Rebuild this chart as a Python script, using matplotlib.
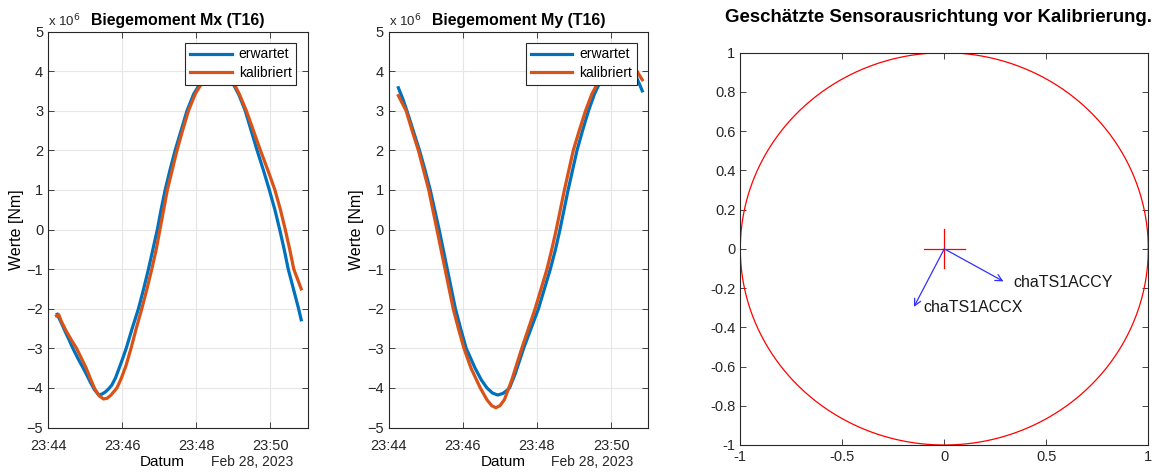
import numpy as np
import matplotlib
matplotlib.use('Agg')
from matplotlib import pyplot as plt
import matplotlib.dates as mdates
from datetime import datetime, timedelta

plt.rcParams['font.family'] = ['Liberation Sans', 'DejaVu Sans']

# minutes after 23:44, values in 1e6 Nm
mx_erw_t = [0.25, 0.36, 0.46, 0.57, 0.67, 0.81, 0.95, 1.05, 1.14, 1.25, 1.36, 1.45, 1.55,
            1.64, 1.72, 1.82, 1.92, 2.01, 2.11, 2.27, 2.44, 2.58, 2.71, 2.83, 2.95, 3.05,
            3.16, 3.29, 3.43, 3.59, 3.75, 3.93, 4.15, 4.35, 4.56, 4.76, 4.96, 5.15, 5.32,
            5.48, 5.64, 5.81, 5.97, 6.12, 6.25, 6.37, 6.48, 6.62, 6.76, 6.83]
mx_erw_v = [-2.14, -2.36, -2.57, -2.79, -3.0, -3.26, -3.5, -3.68, -3.85, -4.04, -4.17, -4.16,
            -4.1, -4.02, -3.93, -3.75, -3.5, -3.27, -3.0, -2.5, -2.0, -1.5, -1.0, -0.5, 0.0,
            0.5, 1.0, 1.5, 2.0, 2.5, 3.0, 3.42, 3.76, 3.97, 4.05, 3.97, 3.74, 3.4, 3.0,
            2.5, 2.0, 1.5, 1.0, 0.5, 0.0, -0.5, -1.0, -1.5, -2.0, -2.28]
mx_kal_t = [0.23, 0.29, 0.36, 0.50, 0.65, 0.77, 0.90, 1.03, 1.15, 1.26, 1.38, 1.50, 1.60,
            1.70, 1.86, 1.98, 2.10, 2.24, 2.38, 2.53, 2.67, 2.80, 2.92, 3.02, 3.12, 3.22,
            3.35, 3.48, 3.63, 3.79, 3.97, 4.19, 4.39, 4.59, 4.79, 4.99, 5.17, 5.35, 5.54,
            5.73, 5.93, 6.12, 6.27, 6.40, 6.52, 6.63, 6.73, 6.83]
mx_kal_v = [-2.18, -2.15, -2.32, -2.58, -2.82, -3.0, -3.25, -3.5, -3.78, -4.02, -4.2, -4.28,
            -4.26, -4.18, -4.0, -3.75, -3.45, -3.0, -2.5, -2.0, -1.5, -1.0, -0.5, 0.0, 0.5,
            1.0, 1.5, 2.0, 2.5, 3.0, 3.42, 3.76, 3.97, 4.05, 3.97, 3.74, 3.4, 3.0, 2.5,
            2.0, 1.5, 1.0, 0.5, 0.0, -0.5, -1.0, -1.25, -1.5]

my_erw_t = [0.26, 0.38, 0.49, 0.66, 0.83, 0.98, 1.12, 1.24, 1.36, 1.47, 1.58, 1.69, 1.80,
            1.94, 2.09, 2.33, 2.50, 2.65, 2.80, 2.94, 3.08, 3.18, 3.26, 3.41, 3.64, 3.84,
            4.04, 4.20, 4.36, 4.50, 4.62, 4.73, 4.84, 4.96, 5.08, 5.23, 5.39, 5.55, 5.71,
            5.88, 6.04, 6.20, 6.31, 6.42, 6.52, 6.60, 6.68, 6.76, 6.84]
my_erw_v = [3.58, 3.3, 3.0, 2.5, 2.0, 1.5, 1.0, 0.5, 0.0, -0.5, -1.0, -1.5, -2.0,
            -2.5, -3.0, -3.5, -3.8, -4.0, -4.13, -4.18, -4.14, -4.07, -4.0, -3.65, -3.0, -2.5,
            -2.0, -1.5, -1.0, -0.5, 0.0, 0.5, 1.0, 1.5, 2.0, 2.5, 3.0, 3.42, 3.74,
            3.98, 4.1, 4.18, 4.2, 4.17, 4.1, 4.0, 3.85, 3.68, 3.5]
my_kal_t = [0.26, 0.36, 0.47, 0.63, 0.80, 0.94, 1.08, 1.19, 1.30, 1.41, 1.52, 1.63, 1.74,
            1.88, 2.03, 2.22, 2.47, 2.65, 2.78, 2.89, 3.00, 3.12, 3.22, 3.32, 3.59, 3.77,
            3.95, 4.11, 4.27, 4.40, 4.52, 4.63, 4.74, 4.86, 4.98, 5.14, 5.31, 5.48, 5.66,
            5.82, 5.98, 6.12, 6.25, 6.40, 6.52, 6.60, 6.68, 6.76, 6.84]
my_kal_v = [3.38, 3.2, 3.0, 2.5, 2.0, 1.5, 1.0, 0.5, 0.0, -0.5, -1.0, -1.5, -2.0,
            -2.5, -3.0, -3.5, -4.0, -4.3, -4.45, -4.5, -4.45, -4.3, -4.05, -3.8, -3.0, -2.5,
            -2.0, -1.5, -1.0, -0.5, 0.0, 0.5, 1.0, 1.5, 2.0, 2.5, 3.0, 3.42, 3.74,
            3.98, 4.12, 4.22, 4.25, 4.24, 4.2, 4.12, 4.03, 3.9, 3.78]

# estimated sensor directions
sensor_names = ['chaTS1ACCX', 'chaTS1ACCY']
sensor_x = [-0.149, 0.29]
sensor_y = [-0.296, -0.166]
label_x = [-0.103, 0.339]
label_y = [-0.30, -0.171]

t0 = datetime(2023, 2, 28, 23, 44)
blue = '#0072BD'
orange = '#D95319'
axcol = '#262626'


def to_time(mins):
    return [t0 + timedelta(minutes=m) for m in mins]


def style_axes(ax):
    for s in ax.spines.values():
        s.set_color(axcol)
        s.set_linewidth(0.8)
    ax.tick_params(direction='in', length=4, width=0.6, colors=axcol, labelsize=10.5,
                   top=True, right=True, labelcolor='#262626')


fig = plt.figure(figsize=(11.58, 4.72), dpi=100)
W, H = 1158.0, 472.0

panels = [
    (48, 'Biegemoment Mx (T16)', mx_erw_t, mx_erw_v, mx_kal_t, mx_kal_v),
    (388.7, 'Biegemoment My (T16)', my_erw_t, my_erw_v, my_kal_t, my_kal_v),
]
for left, title, et, ev, kt, kv in panels:
    ax = fig.add_axes([left / W, (H - 427.5) / H, 259.5 / W, 396 / H])
    ax.plot(to_time(et), ev, color=blue, lw=2.3, label='erwartet')
    ax.plot(to_time(kt), kv, color=orange, lw=2.3, label='kalibriert')
    ax.set_xlim(t0, t0 + timedelta(minutes=7))
    ax.set_ylim(-5, 5)
    ax.set_yticks(range(-5, 6))
    ax.set_xticks(to_time([0, 2, 4, 6]))
    ax.xaxis.set_major_formatter(mdates.DateFormatter('%H:%M'))
    ax.grid(True, color='#e6e6e6', lw=0.8)
    style_axes(ax)
    ax.tick_params(axis='x', pad=8)
    ax.set_ylabel('Werte [Nm]', fontsize=11.5, labelpad=2)
    ax.set_title(title, fontsize=11.4, fontweight='bold', pad=5)
    ax.text(0.0, 1.013, 'x 10$^6$', transform=ax.transAxes, fontsize=9.5,
            ha='left', va='baseline', color=axcol)
    ax.text(0.44, -0.088, 'Datum', transform=ax.transAxes, fontsize=11,
            ha='center', va='center', color='black')
    ax.text(0.944, -0.086, 'Feb 28, 2023', transform=ax.transAxes, fontsize=10,
            ha='right', va='center', color=axcol)
    leg = ax.legend(loc='upper right', fontsize=10, fancybox=False, framealpha=1,
                    edgecolor=axcol, borderaxespad=0.8, handlelength=3.0,
                    borderpad=0.35, labelspacing=0.3, handletextpad=0.5)
    leg.get_frame().set_linewidth(0.8)

# orientation plot
ax3 = fig.add_axes([740.3 / W, (H - 445) / H, 408 / W, 392.3 / H])
theta = np.linspace(0, 2 * np.pi, 400)
ax3.plot(np.cos(theta), np.sin(theta), color='red', lw=0.9)
ax3.plot([-0.1, 0.1], [0, 0], color='red', lw=0.9)
ax3.plot([0, 0], [-0.1, 0.1], color='red', lw=0.9)
for name, sx, sy, lx, ly in zip(sensor_names, sensor_x, sensor_y, label_x, label_y):
    ax3.annotate('', xy=(sx, sy), xytext=(0, 0),
                 arrowprops=dict(arrowstyle='->', color='#3030ff', lw=0.9,
                                 shrinkA=0, shrinkB=0, mutation_scale=12))
    ax3.text(lx, ly, name, fontsize=11.5, ha='left', va='center', color='#1a1a1a')
ax3.set_xlim(-1, 1)
ax3.set_ylim(-1, 1)
ax3.set_xticks([-1, -0.5, 0, 0.5, 1])
ax3.set_yticks(np.round(np.arange(-1, 1.01, 0.2), 1))
ax3.xaxis.set_major_formatter(plt.FuncFormatter(lambda v, p: '%g' % v))
ax3.yaxis.set_major_formatter(plt.FuncFormatter(lambda v, p: '%g' % (v + 0.0)))
style_axes(ax3)
ax3.text(0.485, 1.089, 'Geschätzte Sensorausrichtung vor Kalibrierung.',
         transform=ax3.transAxes, fontsize=13.4, fontweight='bold',
         ha='center', va='center')

fig.savefig('out.png', dpi=100)
